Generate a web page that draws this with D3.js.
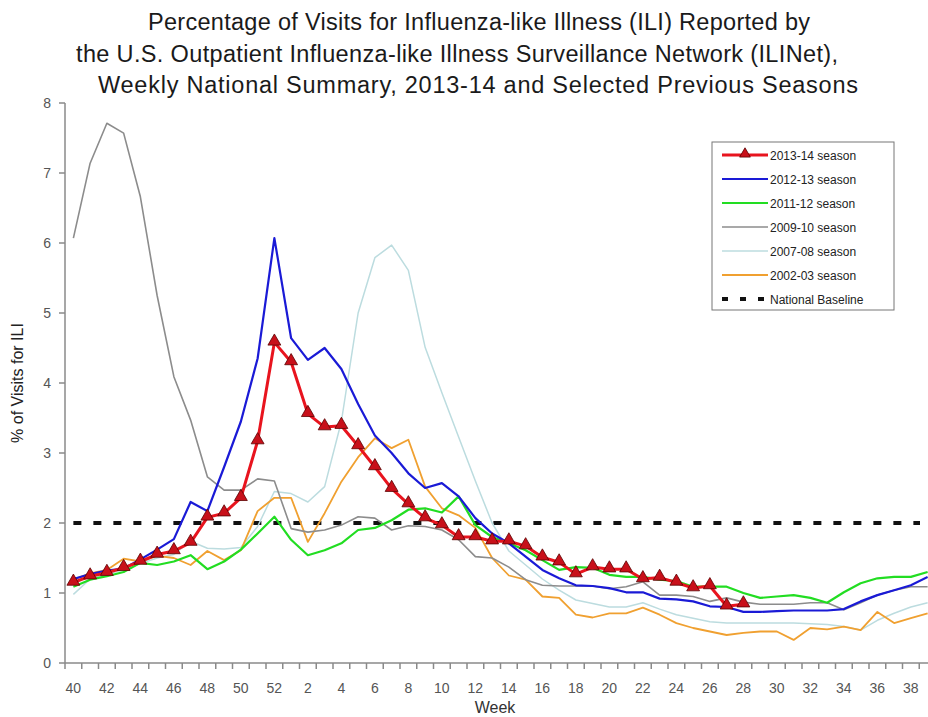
<!DOCTYPE html>
<html><head><meta charset="utf-8">
<script src="https://cdn.jsdelivr.net/npm/d3@7/dist/d3.min.js"></script>
<style>body{margin:0;background:#fff;}svg{display:block;font-family:"Liberation Sans",Arial,sans-serif;}</style>
</head><body><svg id="c" width="928" height="717"></svg>
<script>
const weeks = [40,41,42,43,44,45,46,47,48,49,50,51,52,1,2,3,4,5,6,7,8,9,10,11,12,13,14,15,16,17,18,19,20,21,22,23,24,25,26,27,28,29,30,31,32,33,34,35,36,37,38,39];
const s1314 = [1.15,1.24,1.29,1.36,1.45,1.55,1.6,1.72,2.08,2.14,2.36,3.17,4.58,4.3,3.56,3.37,3.39,3.1,2.8,2.49,2.27,2.07,1.97,1.8,1.8,1.74,1.74,1.67,1.51,1.44,1.27,1.37,1.34,1.34,1.2,1.22,1.15,1.07,1.1,0.81,0.84];
const s1213 = [1.2,1.27,1.32,1.35,1.48,1.62,1.77,2.3,2.17,2.8,3.45,4.35,6.07,4.64,4.33,4.5,4.2,3.7,3.25,3.0,2.71,2.5,2.57,2.38,2.07,1.85,1.71,1.52,1.33,1.21,1.11,1.1,1.07,1.01,1.01,0.92,0.91,0.88,0.81,0.8,0.73,0.73,0.74,0.75,0.75,0.75,0.77,0.88,0.97,1.04,1.11,1.23];
const s1112 = [1.09,1.19,1.24,1.3,1.43,1.4,1.45,1.54,1.34,1.45,1.62,1.85,2.09,1.76,1.54,1.61,1.71,1.9,1.93,2.04,2.19,2.21,2.15,2.38,1.97,1.8,1.71,1.61,1.47,1.33,1.37,1.36,1.26,1.23,1.23,1.19,1.17,1.09,1.09,1.09,1.0,0.93,0.95,0.97,0.93,0.86,1.01,1.14,1.21,1.23,1.23,1.3];
const s0910 = [6.07,7.14,7.71,7.57,6.66,5.25,4.09,3.47,2.66,2.47,2.47,2.63,2.6,1.92,1.87,1.9,1.97,2.09,2.07,1.9,1.96,1.95,1.9,1.76,1.52,1.5,1.37,1.19,1.11,1.1,1.1,1.1,1.06,1.09,1.16,0.97,0.97,0.95,0.88,0.93,0.87,0.84,0.84,0.84,0.86,0.86,0.76,0.86,0.97,1.04,1.09,1.09];
const s0708 = [0.98,1.2,1.27,1.33,1.42,1.5,1.55,1.74,1.64,1.63,1.65,1.95,2.45,2.42,2.3,2.52,3.45,5.0,5.79,5.97,5.61,4.51,3.86,3.23,2.6,2.0,1.6,1.4,1.2,1.04,0.9,0.85,0.8,0.8,0.86,0.77,0.69,0.64,0.59,0.57,0.57,0.57,0.57,0.57,0.56,0.55,0.52,0.47,0.61,0.71,0.8,0.86];
const s0203 = [1.19,1.28,1.33,1.49,1.45,1.53,1.5,1.4,1.6,1.47,1.61,2.17,2.36,2.36,1.73,2.14,2.59,2.94,3.21,3.07,3.19,2.52,2.21,2.11,1.93,1.5,1.25,1.19,0.95,0.93,0.69,0.65,0.71,0.71,0.79,0.69,0.57,0.5,0.45,0.4,0.43,0.45,0.45,0.33,0.5,0.48,0.52,0.47,0.73,0.57,0.64,0.71];
const baseline = 2.0;
const yTicks = [0,1,2,3,4,5,6,7,8];
const xTickLabels = [40,42,44,46,48,50,52,2,4,6,8,10,12,14,16,18,20,22,24,26,28,30,32,34,36,38];
const seriesNames = ["2013-14 season","2012-13 season","2011-12 season","2009-10 season","2007-08 season","2002-03 season"];
const titleLines = ["Percentage of Visits for Influenza-like Illness (ILI) Reported by","the U.S. Outpatient Influenza-like Illness Surveillance Network (ILINet),","Weekly National Summary, 2013-14 and Selected Previous Seasons"];

const svg = d3.select("#c");
const pLeft = 65, pTop = 103, pBottom = 663, bw = 16.75;
const x = d3.scaleBand().domain(weeks.map(String)).range([pLeft, pLeft + bw*weeks.length]).paddingInner(0).paddingOuter(0);
const cx = w => x(String(w)) + x.bandwidth()/2;
const y = d3.scaleLinear().domain([0,8]).range([pBottom, pTop]);

// title
const titleX = [479, 457, 478];
const titleW = [662, 762, 760];
svg.append("g").selectAll("text").data(titleLines).join("text")
  .attr("x", (d,i)=>titleX[i]).attr("y", (d,i)=>30+i*31.5).attr("text-anchor","middle")
  .attr("font-size", 23.5).attr("fill","#1a1a1a")
  .attr("textLength",(d,i)=>titleW[i]).attr("lengthAdjust","spacing").text(d=>d);

// axes
const axisCol = "#8a8a8a";
svg.append("line").attr("x1",pLeft).attr("x2",pLeft).attr("y1",pTop).attr("y2",pBottom).attr("stroke",axisCol).attr("stroke-width",1.5);
svg.append("line").attr("x1",pLeft).attr("x2",pLeft+bw*weeks.length).attr("y1",pBottom).attr("y2",pBottom).attr("stroke",axisCol).attr("stroke-width",1.5);
const yg = svg.append("g");
yg.selectAll("line").data(yTicks).join("line").attr("x1",pLeft-6).attr("x2",pLeft).attr("y1",d=>y(d)).attr("y2",d=>y(d)).attr("stroke",axisCol).attr("stroke-width",1.5);
yg.selectAll("text").data(yTicks).join("text").attr("x",pLeft-14).attr("y",d=>y(d)+5).attr("text-anchor","end").attr("font-size",14).attr("fill","#555").text(d=>d);
const xg = svg.append("g");
xg.selectAll("line").data(weeks).join("line").attr("x1",d=>x(String(d))).attr("x2",d=>x(String(d))).attr("y1",pBottom).attr("y2",pBottom+6).attr("stroke",axisCol).attr("stroke-width",1.5);
xg.selectAll("text").data(xTickLabels).join("text").attr("x",d=>cx(d)).attr("y",pBottom+30).attr("text-anchor","middle").attr("font-size",14).attr("fill","#555").text(d=>d);
svg.append("text").attr("x",495).attr("y",713).attr("text-anchor","middle").attr("font-size",16).attr("fill","#333").text("Week");
svg.append("text").attr("transform","translate(23,383) rotate(-90)").attr("text-anchor","middle").attr("font-size",16).attr("fill","#222").text("% of Visits for ILI");

// baseline
svg.append("line").attr("x1",cx(40)).attr("x2",920).attr("y1",y(baseline)).attr("y2",y(baseline))
  .attr("stroke","#111").attr("stroke-width",4).attr("stroke-dasharray","8,12");

const line = d3.line().x((d,i)=>cx(weeks[i])).y(d=>y(d));
const defs = [
  {data:s0708, color:"#bcdcdf", w:1.5},
  {data:s0203, color:"#f0a030", w:1.8},
  {data:s0910, color:"#8c8c8c", w:1.6},
  {data:s1112, color:"#22dd22", w:2.2},
  {data:s1213, color:"#1a1ad6", w:2.2},
  {data:s1314, color:"#e8141e", w:3}
];
svg.append("g").selectAll("path").data(defs).join("path")
  .attr("d",d=>line(d.data)).attr("fill","none").attr("stroke",d=>d.color).attr("stroke-width",d=>d.w).attr("stroke-linejoin","round");

const tri = d3.symbol().type(d3.symbolTriangle).size(72);
svg.append("g").selectAll("path").data(s1314).join("path")
  .attr("d",tri).attr("transform",(d,i)=>`translate(${cx(weeks[i])},${y(d)-1})`)
  .attr("fill","#c8101a").attr("stroke","#5a0000").attr("stroke-width",0.8);

// legend
const lg = svg.append("g");
lg.append("rect").attr("x",712).attr("y",142).attr("width",182).attr("height",168).attr("fill","#fff").attr("stroke","#777").attr("stroke-width",1);
const legColors = ["#e8141e","#1a1ad6","#22dd22","#8c8c8c","#bcdcdf","#f0a030"];
const legW = [3,2.2,2.2,1.6,1.6,2];
const rowY = i => 155 + i*24;
seriesNames.forEach((n,i)=>{
  lg.append("line").attr("x1",722).attr("x2",768).attr("y1",rowY(i)).attr("y2",rowY(i)).attr("stroke",legColors[i]).attr("stroke-width",legW[i]);
  lg.append("text").attr("x",770).attr("y",rowY(i)+4.5).attr("font-size",12).attr("fill","#222").text(n);
});
lg.append("path").attr("d",d3.symbol().type(d3.symbolTriangle).size(50)).attr("transform",`translate(745,${rowY(0)-1})`).attr("fill","#c8101a").attr("stroke","#5a0000").attr("stroke-width",0.8);
lg.append("line").attr("x1",722).attr("x2",768).attr("y1",rowY(6)).attr("y2",rowY(6)).attr("stroke","#111").attr("stroke-width",4).attr("stroke-dasharray","6,12");
lg.append("text").attr("x",770).attr("y",rowY(6)+4.5).attr("font-size",12).attr("fill","#222").text("National Baseline");
</script></body></html>
